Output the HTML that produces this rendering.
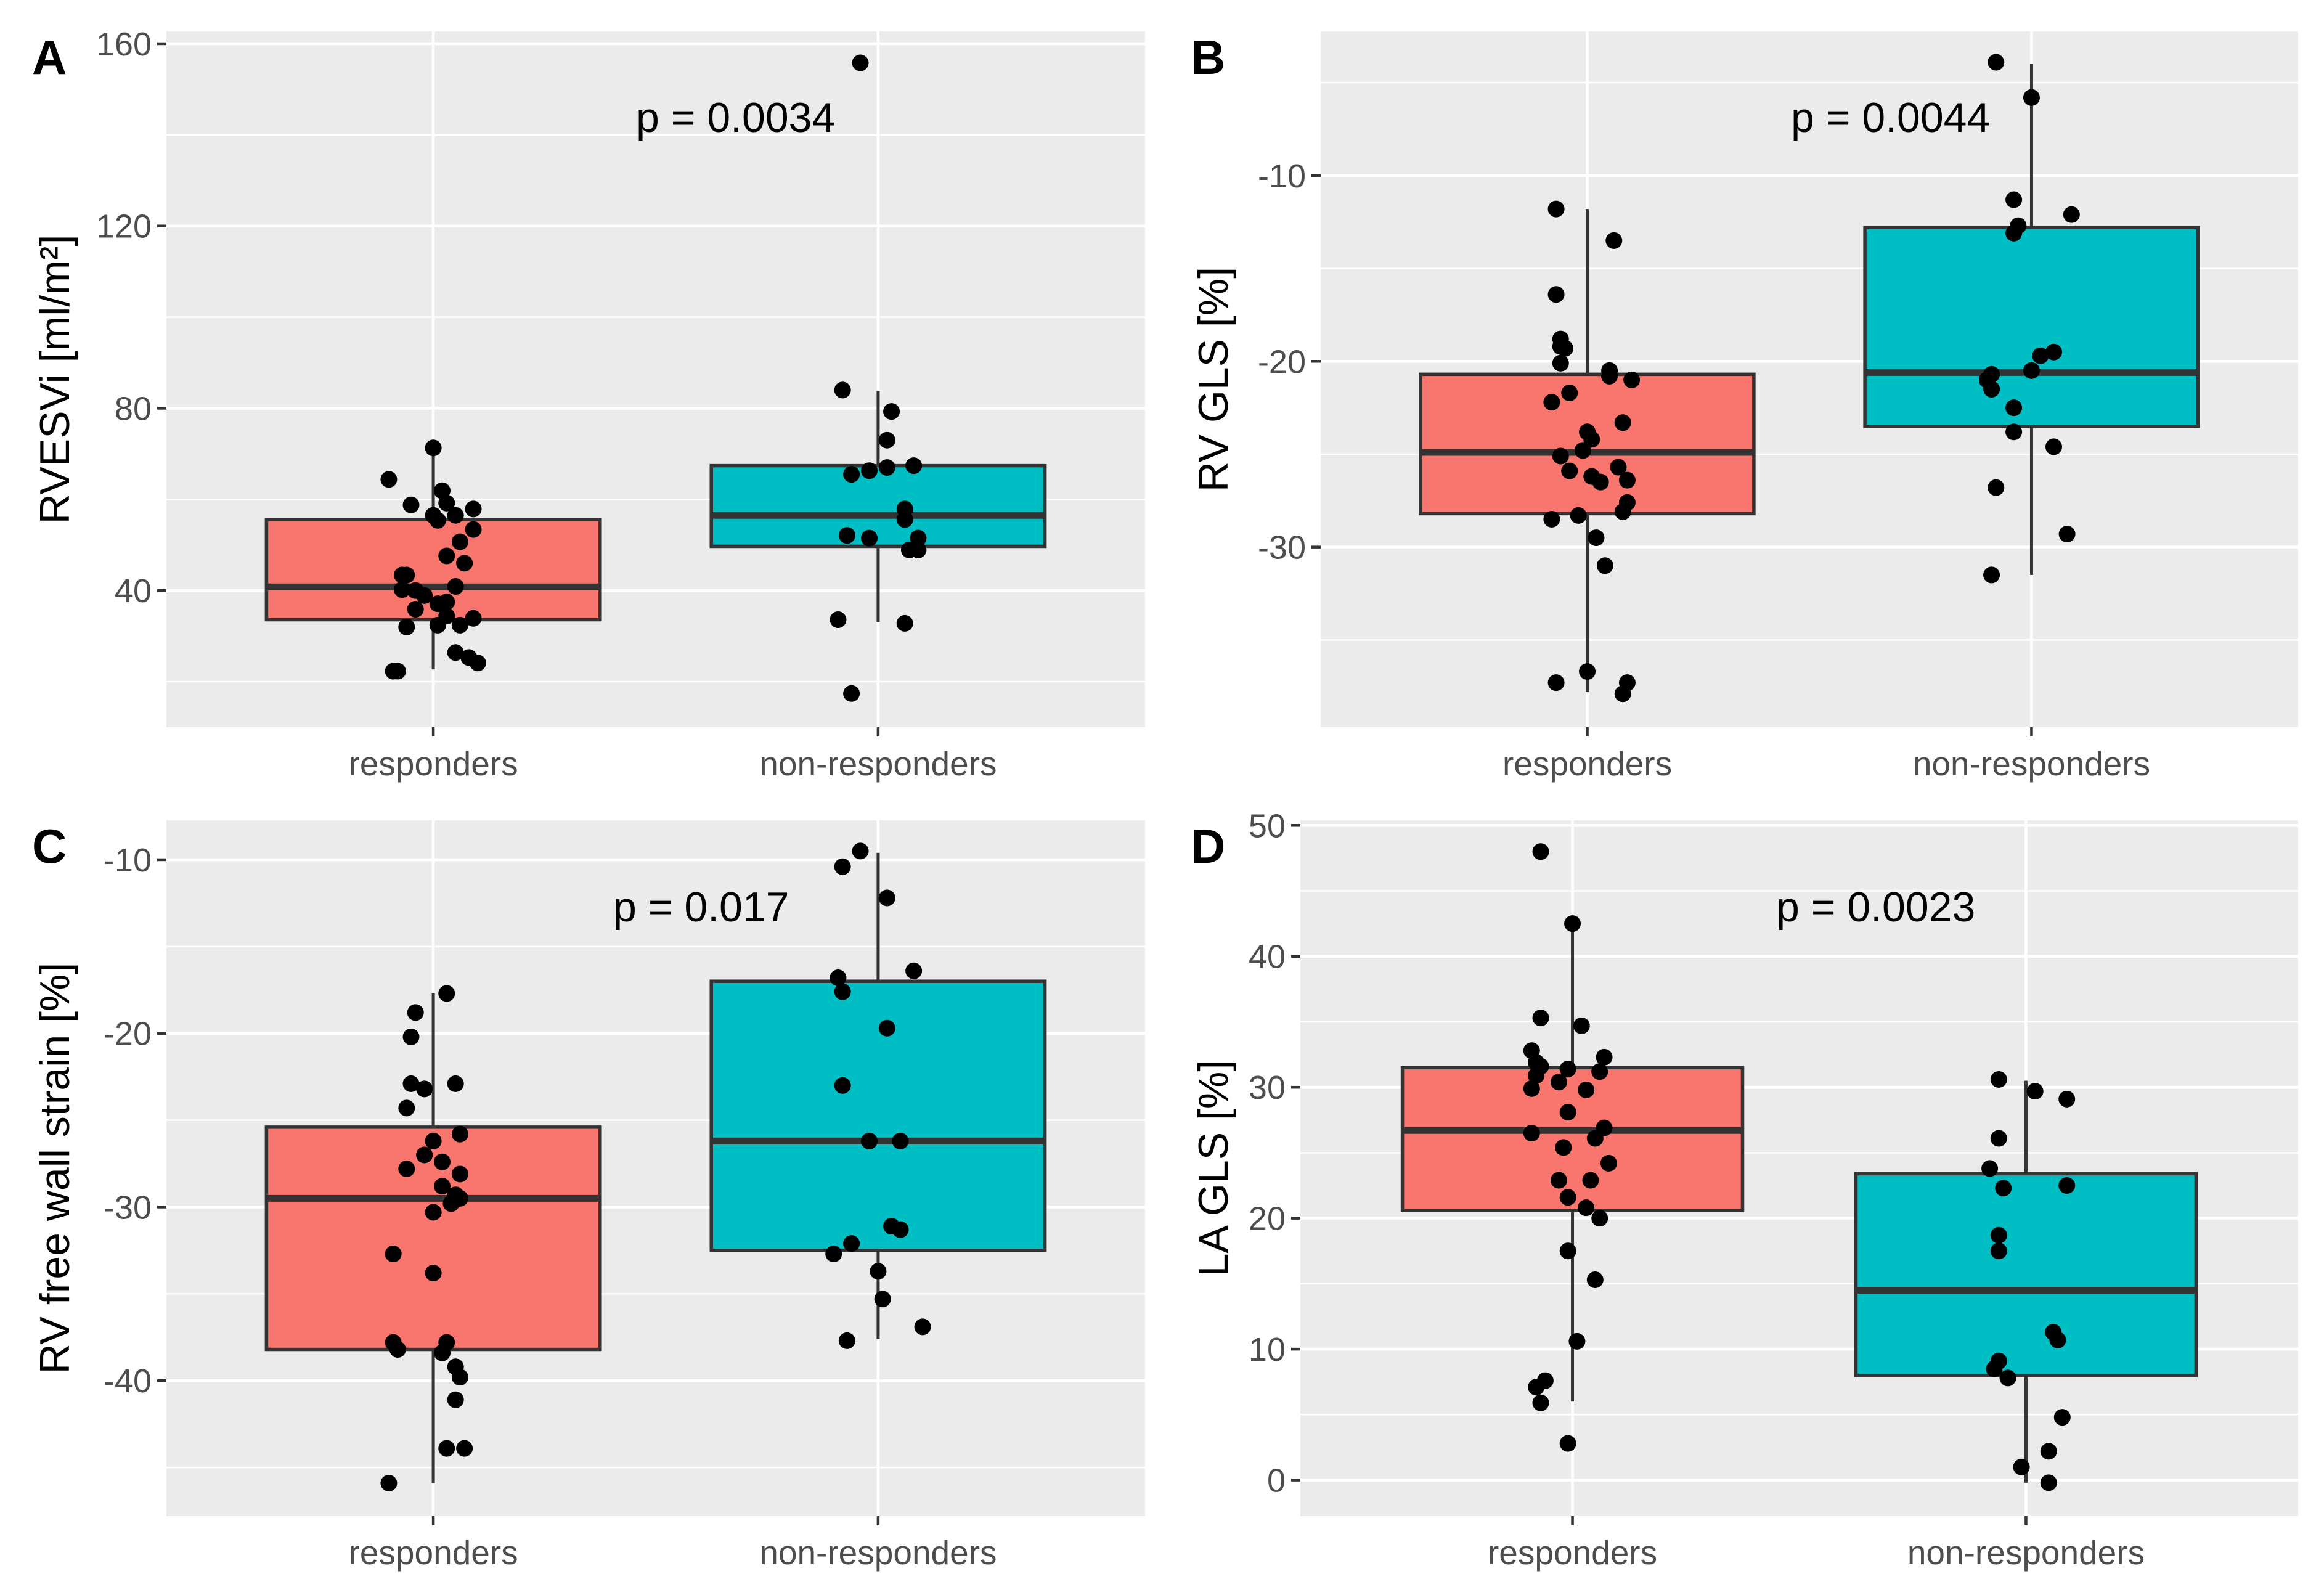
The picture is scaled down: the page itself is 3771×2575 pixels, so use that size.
<!DOCTYPE html>
<html><head><meta charset="utf-8">
<style>
html,body{margin:0;padding:0;background:#fff;}
svg{display:block;font-family:"Liberation Sans",Arial,sans-serif;}
</style></head>
<body>
<svg id="fig" width="3771" height="2575" viewBox="0 0 3771 2575" xmlns="http://www.w3.org/2000/svg"></svg>
<script>
// ---------- data ----------
const categories = ["responders", "non-responders"];
// Panel A: RVESVi
const aTicks = [40, 80, 120, 160];
const aBoxResp = [22.7, 33.6, 40.8, 55.6, 70.7];   // lo, q1, med, q3, hi
const aBoxNon  = [33.1, 49.7, 56.5, 67.4, 83.8];
const aPtsResp = [71.3,64.4,61.9,58.8,59.2,57.9,56.5,56.5,55.4,53.4,50.7,47.6,46.0,43.4,43.4,40.9,40.2,40.0,38.9,37.5,37.1,35.9,34.4,33.9,32.0,32.4,32.4,26.4,25.3,24.1,22.3,22.3];
const aJitResp = [0.00,-0.10,0.02,-0.05,0.03,0.09,0.00,0.05,0.01,0.09,0.06,0.03,0.07,-0.06,-0.07,0.05,-0.07,-0.04,-0.02,0.03,0.01,-0.04,0.03,0.09,-0.06,0.01,0.06,0.05,0.08,0.10,-0.08,-0.09];
const aPtsNon  = [155.8,84.0,79.3,73.0,65.5,66.3,67.0,67.4,57.9,55.6,52.1,51.5,51.5,48.9,48.9,33.6,32.8,17.4];
const aJitNon  = [-0.04,-0.08,0.03,0.02,-0.06,-0.02,0.02,0.08,0.06,0.06,-0.07,-0.02,0.09,0.07,0.09,-0.09,0.06,-0.06];
// Panel B: RV GLS
const bTicks = [-30, -20, -10];
const bBoxResp = [-37.8, -28.2, -24.9, -20.7, -11.8];
const bBoxNon  = [-31.5, -23.5, -20.6, -12.8, -4.0];
const bPtsResp = [-11.8,-13.5,-16.4,-18.8,-19.2,-19.3,-20.1,-20.5,-20.8,-21.0,-21.7,-22.2,-23.3,-23.8,-24.2,-24.8,-25.1,-25.7,-25.9,-26.2,-26.5,-26.4,-27.6,-28.1,-28.3,-28.5,-29.5,-31.0,-36.7,-37.3,-37.3,-37.9];
const bJitResp = [-0.07,0.06,-0.07,-0.06,-0.06,-0.05,-0.06,0.05,0.05,0.10,-0.04,-0.08,0.08,0.00,0.01,-0.01,-0.06,0.07,-0.04,0.01,0.03,0.09,0.09,0.08,-0.02,-0.08,0.02,0.04,0.00,-0.07,0.09,0.08];
const bPtsNon  = [-3.9,-5.8,-11.3,-12.1,-12.7,-13.1,-19.5,-19.7,-20.5,-20.7,-21.0,-21.5,-22.5,-23.8,-24.6,-26.8,-29.3,-31.5];
const bJitNon  = [-0.08,0.00,-0.04,0.09,-0.03,-0.04,0.05,0.02,0.00,-0.09,-0.10,-0.09,-0.04,-0.04,0.05,-0.08,0.08,-0.09];
// Panel C: RV free wall strain
const cTicks = [-40, -30, -20, -10];
const cBoxResp = [-45.9, -38.2, -29.5, -25.4, -17.7];
const cBoxNon  = [-37.6, -32.5, -26.2, -17.0, -9.6];
const cPtsResp = [-17.7,-18.8,-20.2,-22.9,-23.2,-22.9,-24.3,-25.8,-26.2,-27.0,-27.4,-27.8,-28.1,-28.8,-29.3,-29.5,-29.8,-30.3,-32.7,-33.8,-37.8,-38.2,-37.8,-38.4,-39.2,-39.8,-41.1,-43.9,-43.9,-45.9];
const cJitResp = [0.03,-0.04,-0.05,-0.05,-0.02,0.05,-0.06,0.06,0.00,-0.02,0.02,-0.06,0.06,0.02,0.05,0.06,0.04,0.00,-0.09,0.00,-0.09,-0.08,0.03,0.02,0.05,0.06,0.05,0.03,0.07,-0.10];
const cPtsNon  = [-9.5,-10.4,-12.2,-16.4,-16.8,-17.6,-19.7,-23.0,-26.2,-26.2,-31.1,-31.3,-32.1,-32.7,-33.7,-35.3,-36.9,-37.7];
const cJitNon  = [-0.04,-0.08,0.02,0.08,-0.09,-0.08,0.02,-0.08,-0.02,0.05,0.03,0.05,-0.06,-0.10,0.00,0.01,0.10,-0.07];
// Panel D: LA GLS
const dTicks = [0, 10, 20, 30, 40, 50];
const dBoxResp = [6.0, 20.6, 26.7, 31.5, 42.4];
const dBoxNon  = [-0.2, 8.0, 14.5, 23.4, 30.5];
const dPtsResp = [48.0,42.5,35.3,34.7,32.8,32.3,31.9,31.6,31.4,30.9,31.2,30.4,29.8,29.9,28.1,26.9,26.5,26.1,25.4,24.2,22.9,22.9,21.6,20.8,20.0,17.5,15.3,10.6,7.6,7.1,5.9,2.8];
const dJitResp = [-0.07,0.00,-0.07,0.02,-0.09,0.07,-0.08,-0.07,-0.01,-0.08,0.06,-0.03,0.03,-0.09,-0.01,0.07,-0.09,0.05,-0.02,0.08,-0.03,0.04,-0.01,0.03,0.06,-0.01,0.05,0.01,-0.06,-0.08,-0.07,-0.01];
const dPtsNon  = [30.6,29.7,29.1,26.1,23.8,22.3,22.5,18.7,17.5,11.3,10.7,9.1,8.5,7.8,4.8,2.2,1.0,-0.2];
const dJitNon  = [-0.06,0.02,0.09,-0.06,-0.08,-0.05,0.09,-0.06,-0.06,0.06,0.07,-0.06,-0.07,-0.04,0.08,0.05,-0.01,0.05];

// ---------- drawing ----------
const NS = "http://www.w3.org/2000/svg";
const svg = document.getElementById("fig");
function mk(tag, attrs, parent) {
  const e = document.createElementNS(NS, tag);
  for (const k in attrs) e.setAttribute(k, attrs[k]);
  (parent || svg).appendChild(e);
  return e;
}

function panel(cfg) {
  const g = mk("g", {});
  
  
  const L = cfg.x0, R = cfg.x1, T = cfg.y0, B = cfg.y1;
  const yS = v => T + (cfg.vTop - v) / (cfg.vTop - cfg.vBot) * (B - T);
  const band = (R - L) / 2.2;
  const xS = c => L + (0.6 + c) * band;

  const bg = mk("rect", {x: L, y: T, width: R - L, height: B - T, fill: "#ebebeb"}, g);
  
  
  const step = cfg.ticks[1] - cfg.ticks[0];
  for (let v = cfg.ticks[0] - step / 2; v <= cfg.vTop; v += step) {
    if (v < cfg.vBot) continue;
    const ln = mk("line", {x1: L, x2: R, y1: yS(v), y2: yS(v), stroke: "#fff", "stroke-width": 2.5}, g);
    
    
  }
  cfg.ticks.forEach(v => {
    const ln = mk("line", {x1: L, x2: R, y1: yS(v), y2: yS(v), stroke: "#fff", "stroke-width": 4.5}, g);
    
    
    const tk = mk("line", {x1: L - 15, x2: L, y1: yS(v), y2: yS(v), stroke: "#333", "stroke-width": 4.5}, g);
    
    
    const t = mk("text", {x: L - 24, y: yS(v) + 19, "text-anchor": "end", "font-size": 54, fill: "#4d4d4d"}, g);
    t.textContent = String(v);
    
    
  });
  [0, 1].forEach(c => {
    const ln = mk("line", {x1: xS(c), x2: xS(c), y1: T, y2: B, stroke: "#fff", "stroke-width": 4.5}, g);
    
    
    const tk = mk("line", {x1: xS(c), x2: xS(c), y1: B, y2: B + 15, stroke: "#333", "stroke-width": 4.5}, g);
    
    
    const t = mk("text", {x: xS(c), y: B + 78, "text-anchor": "middle", "font-size": 55, fill: "#4d4d4d"}, g);
    t.textContent = categories[c];
    
    
  });
  const boxes = [cfg.boxResp, cfg.boxNon];
  const fills = ["#f8766d", "#00bfc4"];
  boxes.forEach((b, c) => {
    const cx = xS(c), hw = band * 0.375;
    const w1 = mk("line", {x1: cx, x2: cx, y1: yS(b[0]), y2: yS(b[1]), stroke: "#333", "stroke-width": 5}, g);
    
    
    const w2 = mk("line", {x1: cx, x2: cx, y1: yS(b[3]), y2: yS(b[4]), stroke: "#333", "stroke-width": 5}, g);
    
    
    const r = mk("rect", {x: cx - hw, y: yS(b[3]), width: 2 * hw, height: yS(b[1]) - yS(b[3]), fill: fills[c], stroke: "#333", "stroke-width": 5.5}, g);
    
    
    const m = mk("line", {x1: cx - hw, x2: cx + hw, y1: yS(b[2]), y2: yS(b[2]), stroke: "#333", "stroke-width": 11}, g);
    
    
  });
  const sets = [[cfg.ptsResp, cfg.jitResp], [cfg.ptsNon, cfg.jitNon]];
  sets.forEach((s, c) => {
    s[0].forEach((v, i) => {
      const p = mk("circle", {cx: xS(c + s[1][i]), cy: yS(v), r: 13.5, fill: "#000"}, g);
      
      
    });
  });
  const yt = mk("text", {transform: `translate(${cfg.titleX},${(T + B) / 2}) rotate(-90)`, "text-anchor": "middle", "font-size": 68, fill: "#000"}, g);
  yt.textContent = cfg.title;
  
  
  const pt = mk("text", {x: cfg.px, y: cfg.py, "font-size": 68, fill: "#000"}, g);
  pt.textContent = cfg.p;
  
  
  const lt = mk("text", {x: cfg.lx, y: cfg.ly, "font-size": 78, "font-weight": "bold", fill: "#000"}, g);
  lt.textContent = cfg.letter;
  
  
}

panel({letter: "A", x0: 270, x1: 1858, y0: 51, y1: 1180, vTop: 162.7, vBot: 10.0, ticks: aTicks,
  boxResp: aBoxResp, boxNon: aBoxNon, ptsResp: aPtsResp, jitResp: aJitResp, ptsNon: aPtsNon, jitNon: aJitNon,
  title: "RVESVi [ml/m²]", titleX: 112, p: "p = 0.0034", px: 1032, py: 214, lx: 52, ly: 120});
panel({letter: "B", x0: 2143, x1: 3729, y0: 51, y1: 1180, vTop: -2.24, vBot: -39.7, ticks: bTicks,
  boxResp: bBoxResp, boxNon: bBoxNon, ptsResp: bPtsResp, jitResp: bJitResp, ptsNon: bPtsNon, jitNon: bJitNon,
  title: "RV GLS [%]", titleX: 1992, p: "p = 0.0044", px: 2906, py: 214, lx: 1932, ly: 120});
panel({letter: "C", x0: 270, x1: 1858, y0: 1331, y1: 2460, vTop: -7.73, vBot: -47.8, ticks: cTicks,
  boxResp: cBoxResp, boxNon: cBoxNon, ptsResp: cPtsResp, jitResp: cJitResp, ptsNon: cPtsNon, jitNon: cJitNon,
  title: "RV free wall strain [%]", titleX: 112, p: "p = 0.017", px: 995, py: 1495, lx: 52, ly: 1400});
panel({letter: "D", x0: 2110, x1: 3729, y0: 1331, y1: 2460, vTop: 50.39, vBot: -2.75, ticks: dTicks,
  boxResp: dBoxResp, boxNon: dBoxNon, ptsResp: dPtsResp, jitResp: dJitResp, ptsNon: dPtsNon, jitNon: dJitNon,
  title: "LA GLS [%]", titleX: 1992, p: "p = 0.0023", px: 2882, py: 1495, lx: 1932, ly: 1400});
</script>
</body></html>
